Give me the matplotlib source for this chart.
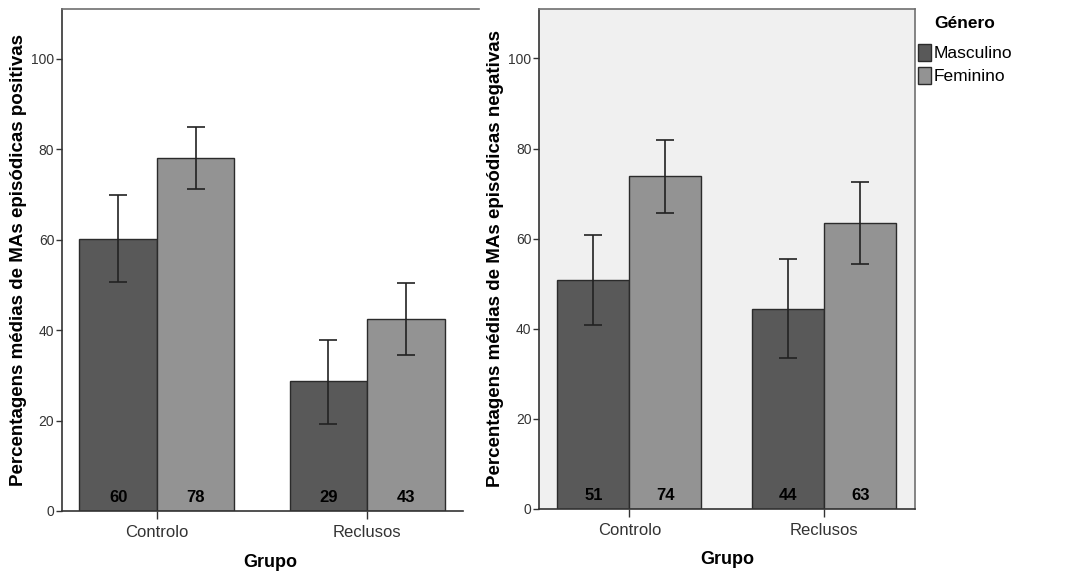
import matplotlib
matplotlib.use("Agg")
import matplotlib.pyplot as plt
import numpy as np

plt.rcParams['font.family'] = ['Liberation Sans', 'DejaVu Sans']

grupos = ["Controlo", "Reclusos"]
generos = ["Masculino", "Feminino"]

# percentagens médias (MAs episódicas positivas)
pos_masc = [60.2, 28.7]
pos_fem = [78.0, 42.4]
pos_masc_err = [(50.6, 69.8), (19.2, 37.9)]
pos_fem_err = [(71.2, 84.9), (34.5, 50.3)]
pos_labels_masc = ["60", "29"]
pos_labels_fem = ["78", "43"]

# percentagens médias (MAs episódicas negativas)
neg_masc = [50.8, 44.4]
neg_fem = [73.8, 63.5]
neg_masc_err = [(40.9, 60.9), (33.5, 55.4)]
neg_fem_err = [(65.7, 81.8), (54.4, 72.6)]
neg_labels_masc = ["51", "44"]
neg_labels_fem = ["74", "63"]

c_masc = "#595959"
c_fem = "#939393"
edge = "#2b2b2b"
w = 0.369


def draw(ax, masc, fem, masc_err, fem_err, lab_m, lab_f, ylabel, xlim):
    x = np.arange(len(grupos))
    bars = []
    for vals, errs, labs, off, col in [(masc, masc_err, lab_m, -w / 2, c_masc),
                                        (fem, fem_err, lab_f, w / 2, c_fem)]:
        b = ax.bar(x + off, vals, width=w, color=col, edgecolor=edge, linewidth=1.0, zorder=2)
        bars.append(b)
        lo = [v - e[0] for v, e in zip(vals, errs)]
        hi = [e[1] - v for v, e in zip(vals, errs)]
        ax.errorbar(x + off, vals, yerr=[lo, hi], fmt="none", ecolor="#222222",
                    elinewidth=1.2, capsize=6.5, capthick=1.2, zorder=3)
        for xi, t in zip(x + off, labs):
            ax.annotate(t, (xi, 0), xytext=(0, 4), textcoords="offset points",
                        ha="center", va="bottom", fontsize=12, fontweight="bold",
                        color="#000000", zorder=4)
    ax.set_xlim(*xlim)
    ax.set_ylim(0, 111)
    ax.set_yticks([0, 20, 40, 60, 80, 100])
    ax.set_xticks(x)
    ax.set_xticklabels(grupos, fontsize=12, color="#333333")
    ax.tick_params(axis="y", length=4.5, width=1.0, labelsize=10, labelcolor="#333333",
                   color="#333333", pad=1)
    ax.tick_params(axis="x", length=6, width=1.0, color="#333333", pad=4)
    ax.set_xlabel("Grupo", fontsize=13, fontweight="bold", labelpad=10)
    ax.set_ylabel(ylabel, fontsize=13.5, fontweight="bold", labelpad=3)
    return bars


fig = plt.figure(figsize=(10.74, 5.74), dpi=100)
ax1 = fig.add_axes([0.0577, 0.1098, 0.3883, 0.8746])
ax2 = fig.add_axes([0.5019, 0.1138, 0.3501, 0.8706])

draw(ax1, pos_masc, pos_fem, pos_masc_err, pos_fem_err, pos_labels_masc, pos_labels_fem,
     "Percentagens médias de MAs episódicas positivas", (-0.452, 1.533))
bars = draw(ax2, neg_masc, neg_fem, neg_masc_err, neg_fem_err, neg_labels_masc, neg_labels_fem,
            "Percentagens médias de MAs episódicas negativas", (-0.463, 1.465))

ax1.spines["right"].set_visible(False)
ax1.spines["top"].set_color("#707070")
ax1.spines["top"].set_linewidth(1.2)
ax1.spines["left"].set_color("#333333")
ax1.spines["left"].set_linewidth(1.2)
ax1.spines["bottom"].set_color("#333333")
ax1.spines["bottom"].set_linewidth(1.2)
ax1.spines["bottom"].set_bounds(-0.452, 1.457)

ax2.set_facecolor("#f0f0f0")
for s in ["top", "right"]:
    ax2.spines[s].set_color("#707070")
    ax2.spines[s].set_linewidth(1.2)
for s in ["left", "bottom"]:
    ax2.spines[s].set_color("#333333")
    ax2.spines[s].set_linewidth(1.2)

leg = fig.legend([bars[0], bars[1]], generos, title="Género",
                 loc="upper left", bbox_to_anchor=(0.8547, 0.972),
                 frameon=False, fontsize=12.5, handlelength=0.75, handleheight=1.2,
                 handletextpad=0.15, labelspacing=0.3, borderaxespad=0, borderpad=0,
                 title_fontproperties={"weight": "bold", "size": 12.5})
leg._legend_box.sep = 9

fig.savefig("out.png", dpi=100)
